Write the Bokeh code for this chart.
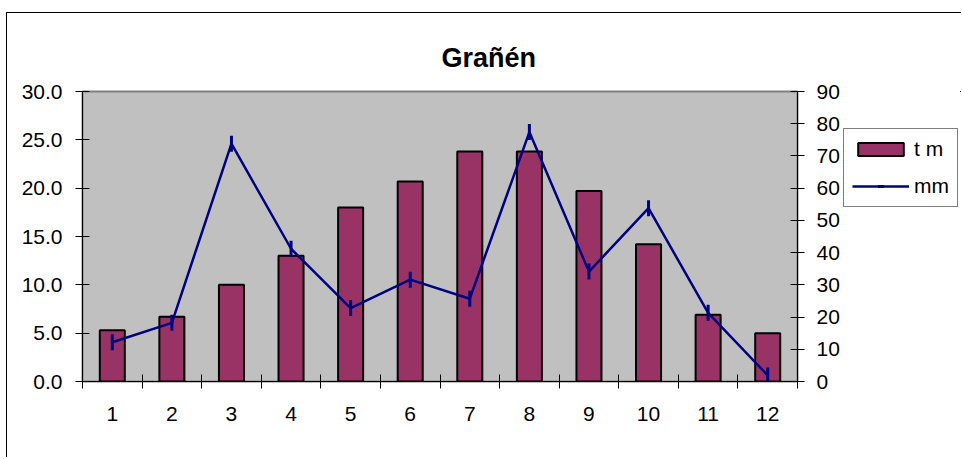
from bokeh.plotting import figure
from bokeh.layouts import row
from bokeh.models import (Range1d, LinearAxis, FixedTicker, Legend, LegendItem,
                          NumeralTickFormatter, ColumnDataSource)
from bokeh.embed import file_html
from bokeh.resources import INLINE
import math

months = [1, 2, 3, 4, 5, 6, 7, 8, 9, 10, 11, 12]
tm = [5.3, 6.7, 10.0, 13.0, 18.0, 20.7, 23.8, 23.8, 19.7, 14.2, 6.9, 5.0]
mm = [12.2, 18.2, 73.8, 41.2, 22.8, 31.6, 25.7, 77.4, 34.1, 53.8, 21.3, 1.9]
left_ticks = [0, 5, 10, 15, 20, 25, 30]
right_ticks = [0, 10, 20, 30, 40, 50, 60, 70, 80, 90]

FONT = "Liberation Sans"
W1, H = 836, 444
W2 = 118

BAR_STYLE = dict(fill_color="#993366", line_color="black", line_width=2)
LINE_STYLE = dict(line_color="#000080", line_width=2.5)
MARK_STYLE = dict(marker="dash", angle=math.pi / 2, size=16, line_color="#000080", line_width=3)

src = ColumnDataSource(dict(x=months, tm=tm, mm=mm))

p = figure(width=W1, height=H, output_backend="svg", toolbar_location=None,
           x_range=Range1d(0.5, 12.5), y_range=Range1d(0, 30),
           min_border_left=75, min_border_right=W1 - 790,
           min_border_top=78, min_border_bottom=H - 368,
           background_fill_color="#C0C0C0", border_fill_color="white")
p.extra_y_ranges = {"mm": Range1d(0, 90)}

p.xgrid.visible = False
p.ygrid.visible = False
p.outline_line_color = "#808080"
p.outline_line_width = 2

# title
p.title.text = "Grañén"
p.title.text_font = FONT
p.title.text_font_size = "27px"
p.title.text_font_style = "bold"
p.title.text_color = "black"
p.title.align = "left"
p.title.offset = 359
p.title.standoff = 37

# x axis
xa = p.xaxis[0]
xa.ticker = FixedTicker(ticks=months, minor_ticks=[m - 0.5 for m in months] + [12.5])
xa.major_tick_in = 0
xa.major_tick_out = 0
xa.minor_tick_in = 7
xa.minor_tick_out = 7
xa.minor_tick_line_color = "black"
xa.axis_line_color = "black"
xa.major_label_standoff = 18
xa.major_label_text_font = FONT
xa.major_label_text_font_size = "21px"
xa.major_label_text_color = "black"

# left axis
ya = p.yaxis[0]
ya.ticker = FixedTicker(ticks=left_ticks, minor_ticks=[])
ya.formatter = NumeralTickFormatter(format="0.0")
ya.major_tick_in = 7
ya.major_tick_out = 7
ya.major_tick_line_color = "black"
ya.minor_tick_line_color = None
ya.axis_line_color = "black"
ya.major_label_standoff = 13
ya.major_label_text_font = FONT
ya.major_label_text_font_size = "21px"
ya.major_label_text_color = "black"

# right axis
ra = LinearAxis(y_range_name="mm", ticker=FixedTicker(ticks=right_ticks, minor_ticks=[]))
ra.major_tick_in = 7
ra.major_tick_out = 7
ra.major_tick_line_color = "black"
ra.minor_tick_line_color = None
ra.axis_line_color = "black"
ra.major_label_standoff = 12
ra.major_label_text_font = FONT
ra.major_label_text_font_size = "21px"
ra.major_label_text_color = "black"
p.add_layout(ra, "right")

p.vbar(x="x", top="tm", width=0.42, source=src, **BAR_STYLE)
p.line(x="x", y="mm", source=src, y_range_name="mm", **LINE_STYLE)
p.scatter(x="x", y="mm", source=src, y_range_name="mm", **MARK_STYLE)

# legend panel: a small figure whose view range shows none of the data,
# carrying renderers with the same styles so the legend can draw its swatches
p2 = figure(width=W2, height=H, output_backend="svg", toolbar_location=None,
            x_axis_type=None, y_axis_type=None, min_border=0,
            x_range=Range1d(-20, -19), y_range=Range1d(-20, -19),
            background_fill_color="white", border_fill_color="white")
p2.outline_line_color = None
p2.title.text = ""
lb = p2.vbar(x="x", top="tm", width=0.42, source=src, **BAR_STYLE)
ll = p2.line(x="x", y="mm", source=src, **LINE_STYLE)
lm = p2.scatter(x="x", y="mm", source=src, **MARK_STYLE)

legend = Legend(items=[LegendItem(label="t m", renderers=[lb]),
                       LegendItem(label="mm", renderers=[ll, lm])],
                location=(0, 174), orientation="vertical",
                label_text_font=FONT, label_text_font_size="21px",
                label_text_color="black",
                glyph_width=57, glyph_height=16, label_height=21,
                label_standoff=5, spacing=13, padding=8, margin=0,
                border_line_color="black", border_line_width=1,
                background_fill_color="white", background_fill_alpha=1)
p2.add_layout(legend, "center")

layout = row(p, p2, spacing=0)
layout.margin = (12, 0, 0, 6)
layout.styles = {"border-top": "1px solid black", "border-left": "1px solid black"}

open("out.html", "w").write(file_html(layout, INLINE))
